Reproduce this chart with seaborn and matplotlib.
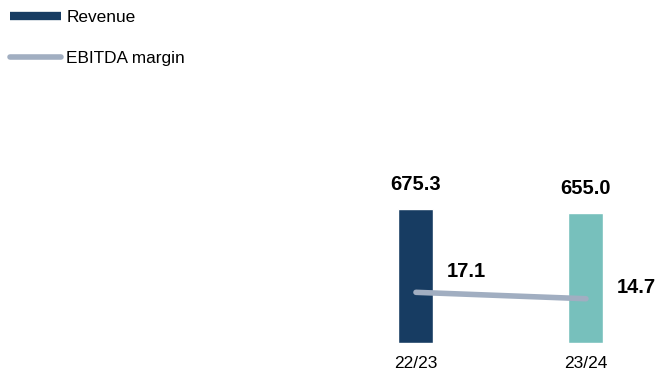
import matplotlib
matplotlib.use("Agg")
import matplotlib.pyplot as plt
from matplotlib.lines import Line2D
import seaborn as sns
import pandas as pd

# Fiscal years, revenue and EBITDA margin (%)
years = ["22/23", "23/24"]
revenue = [675.3, 655.0]
ebitda_margin = [17.1, 14.7]
bar_colors = ["#173c62", "#77c0bc"]
line_color = "#a1aec1"

sns.set_theme(style="white")
plt.rcParams["font.family"] = ["Liberation Sans", "DejaVu Sans"]

df = pd.DataFrame({"year": years, "revenue": revenue, "margin": ebitda_margin})

fig = plt.figure(figsize=(6.56, 3.71), dpi=100)
ax = fig.add_axes([0, 28 / 371, 1, 343 / 371])

sns.barplot(data=df, x="year", y="revenue", hue="year", palette=bar_colors,
            width=0.206, legend=False, ax=ax, saturation=1)
ax.set_xlim(-2.447, 1.412)
ax.set_ylim(0, 1728.6)

ax2 = ax.twinx()
sns.lineplot(data=df, x="year", y="margin", color=line_color, linewidth=4,
             solid_capstyle="round", sort=False, ax=ax2)
ax2.set_ylim(-1.9, 126.7)

for a in (ax, ax2):
    for s in a.spines.values():
        s.set_visible(False)
    a.set_ylabel("")
    a.set_xlabel("")
    a.set_yticks([])
    a.tick_params(axis="x", length=0)

ax.tick_params(axis="x", labelsize=12.5, pad=9, labelcolor="black")

# Revenue labels above bars
for i, v in enumerate(revenue):
    ax.annotate(f"{v:.1f}", (i, v), xytext=(0, 11), textcoords="offset points",
                ha="center", va="bottom", fontsize=14.5, fontweight="bold",
                color="black")

# EBITDA margin labels
margin_offsets = [(22, 8.5), (22.5, 1.5)]
for i, (v, off) in enumerate(zip(ebitda_margin, margin_offsets)):
    ax2.annotate(f"{v:.1f}", (i, v), xytext=off, textcoords="offset points",
                 ha="left", va="bottom", fontsize=14.5, fontweight="bold",
                 color="black")

handles = [
    Line2D([], [], color=bar_colors[0], linewidth=6, solid_capstyle="butt"),
    Line2D([], [], color=line_color, linewidth=4, solid_capstyle="round"),
]
fig.legend(handles, ["Revenue", "EBITDA margin"], loc="upper left",
           bbox_to_anchor=(7 / 656, 1 - 7 / 371), frameon=False,
           fontsize=12.4, handlelength=2.95, handletextpad=0.3,
           labelspacing=1.5, borderaxespad=0, borderpad=0.2,
           labelcolor="black")

fig.savefig("out.png", dpi=100)
